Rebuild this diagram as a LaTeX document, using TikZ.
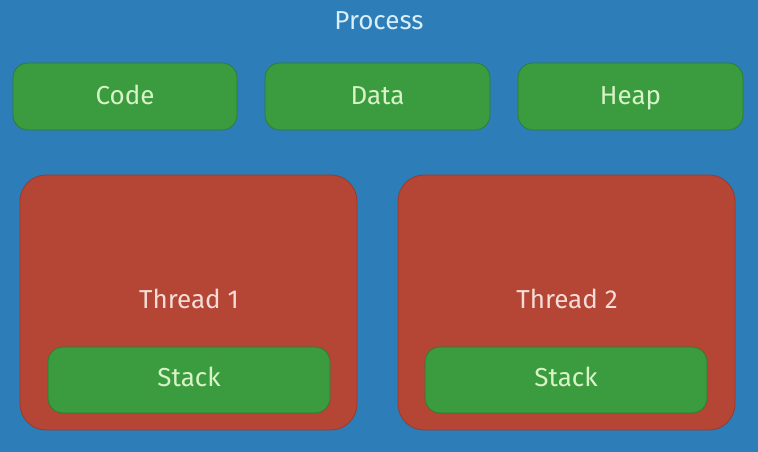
\documentclass[tikz,border=0pt]{standalone}
\usepackage{fontspec}
\setmainfont{Fira Sans}
\definecolor{bgblue}{HTML}{2C7DB8}
\definecolor{boxgreen}{HTML}{3A9C3E}
\definecolor{boxred}{HTML}{B54535}
\definecolor{txtblue}{HTML}{D8EEF8}
\definecolor{txtgreen}{HTML}{D8F3C8}
\definecolor{txtred}{HTML}{F6DCD6}
\tikzset{
  gbox/.style={fill=boxgreen, draw=boxgreen!80!black, line width=0.8pt, rounded corners=15pt},
  rbox/.style={fill=boxred, draw=boxred!85!black, line width=0.8pt, rounded corners=26pt},
  lbl/.style={font=\fontsize{26}{30}\selectfont\addfontfeatures{Weight=300}, inner sep=0pt, anchor=base}
}
\begin{document}
\begin{tikzpicture}[x=1pt,y=1pt]
\fill[bgblue] (0,0) rectangle (758,452);
\useasboundingbox (0,0) rectangle (758,452);
\node[lbl, text=txtblue] (proc) at (379,422) {Process};
\draw[gbox] (13,322) rectangle (237,389);
\node[lbl, text=txtgreen] (code) at (125,347) {Code};
\draw[gbox] (265,322) rectangle (490,389);
\node[lbl, text=txtgreen] (data) at (377.5,347) {Data};
\draw[gbox] (518,322) rectangle (743,389);
\node[lbl, text=txtgreen] (heap) at (630.5,347) {Heap};
\draw[rbox] (20,22) rectangle (357,277);
\node[lbl, text=txtred] (t1) at (189,143) {Thread 1};
\draw[gbox] (48,39) rectangle (330,105);
\node[lbl, text=txtgreen] (s1) at (189,65) {Stack};
\draw[rbox] (398,22) rectangle (735,277);
\node[lbl, text=txtred] (t2) at (567,143) {Thread 2};
\draw[gbox] (425,39) rectangle (707,105);
\node[lbl, text=txtgreen] (s2) at (566,65) {Stack};
\end{tikzpicture}
\end{document}
